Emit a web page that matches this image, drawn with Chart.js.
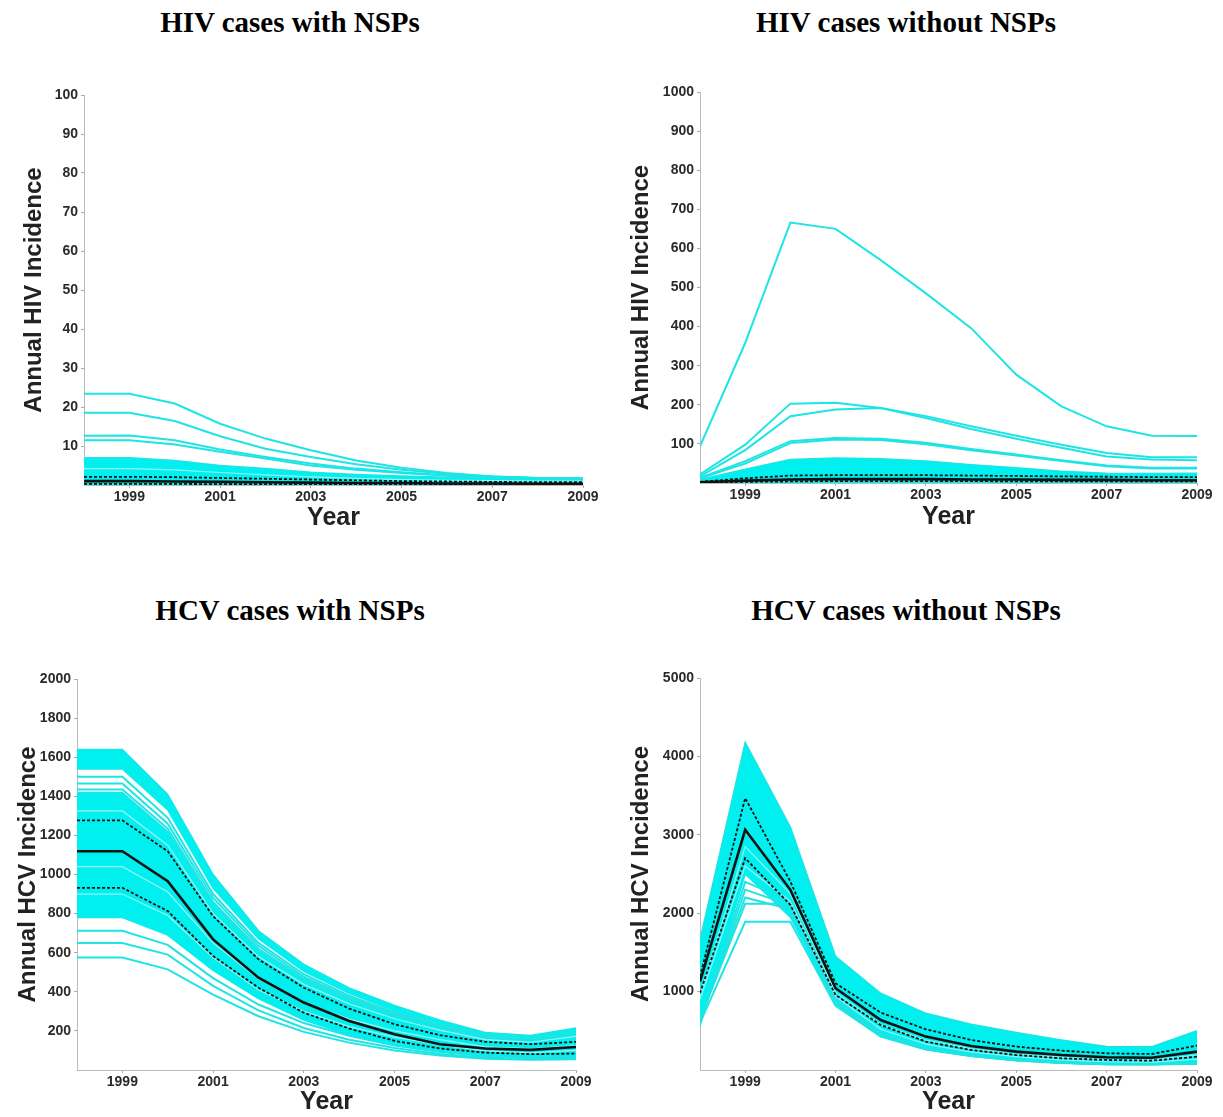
<!DOCTYPE html>
<html>
<head>
<meta charset="utf-8">
<script src="https://cdn.jsdelivr.net/npm/chart.js@4.4.0/dist/chart.umd.min.js"></script>
<style>
	body { margin: 0; background: #fff; }
	#page { position: relative; width: 1223px; height: 1117px; overflow: hidden; }
	.ttl { position: absolute; width: 600px; text-align: center; font: bold 29px "Liberation Serif", "Times New Roman", serif; color: #000; line-height: 33px; }
	canvas { position: absolute; }
</style>
</head>
<body>
<div id="page">
	<div class="ttl" style="left:-10px; top:6px;">HIV cases with NSPs</div>
	<div class="ttl" style="left:606px; top:6px;">HIV cases without NSPs</div>
	<div class="ttl" style="left:-10px; top:594px;">HCV cases with NSPs</div>
	<div class="ttl" style="left:606px; top:594px;">HCV cases without NSPs</div>
	<canvas id="HIV_With" width="610" height="490" style="left:0px; top:60px;"></canvas>
	<canvas id="HIV_Without" width="613" height="490" style="left:610px; top:60px;"></canvas>
	<canvas id="HCV_With" width="610" height="477" style="left:0px; top:640px;"></canvas>
	<canvas id="HCV_Without" width="613" height="477" style="left:610px; top:640px;"></canvas>
</div>
<script>
// years on the x axis, and the labelled ticks
const years = [1998, 1999, 2000, 2001, 2002, 2003, 2004, 2005, 2006, 2007, 2008, 2009];
const xTicks = [1999, 2001, 2003, 2005, 2007, 2009];

// HIV with NSPs
const hivWithTicks = [10, 20, 30, 40, 50, 60, 70, 80, 90, 100];
const hivWithLine1 = [23.4, 23.4, 20.9, 15.7, 11.9, 8.9, 6.3, 4.4, 3.1, 2.2, 1.8, 1.6];
const hivWithLine2 = [18.5, 18.5, 16.4, 12.5, 9.3, 7.2, 5.3, 3.9, 2.9, 2.2, 1.8, 1.6];
const hivWithLine3 = [12.6, 12.7, 11.5, 9.1, 7.2, 5.5, 4.2, 3.3, 2.5, 2.1, 1.7, 1.6];
const hivWithLine4 = [11.5, 11.5, 10.4, 8.5, 6.8, 5.0, 3.9, 3.1, 2.4, 2.1, 1.7, 1.6];
const hivWithLight = [4.2, 4.2, 3.9, 3.2, 2.6, 2.1, 1.7, 1.4, 1.2, 1.1, 1.0, 1.0];
const hivWithBandTop = [7.0, 7.0, 6.3, 5.0, 4.2, 3.3, 2.7, 2.3, 2.0, 1.9, 1.8, 1.8];
const hivWithBandBottom = [0, 0, 0, 0, 0, 0, 0, 0, 0, 0, 0, 0];
const hivWithMedian = [1.0, 1.0, 0.9, 0.8, 0.7, 0.6, 0.5, 0.5, 0.4, 0.4, 0.3, 0.3];
const hivWithUpper = [2.1, 2.1, 2.0, 1.8, 1.6, 1.4, 1.2, 1.0, 0.9, 0.8, 0.7, 0.7];
const hivWithLower = [0.3, 0.3, 0.3, 0.2, 0.2, 0.2, 0.1, 0.1, 0.1, 0.1, 0.1, 0.1];

// HIV without NSPs
const hivWithoutTicks = [100, 200, 300, 400, 500, 600, 700, 800, 900, 1000];
const hivWithoutLine1 = [94, 358, 666, 650, 570, 485, 396, 277, 196, 145, 121, 120];
const hivWithoutLine2 = [22, 98, 203, 205, 192, 171, 145, 121, 98, 77, 66, 66];
const hivWithoutLine3 = [17, 84, 171, 188, 192, 166, 138, 113, 90, 68, 60, 58];
const hivWithoutLine4 = [13, 56, 107, 115, 113, 103, 87, 73, 58, 45, 39, 39];
const hivWithoutLine5 = [12, 50, 102, 111, 110, 99, 84, 70, 56, 43, 37, 37];
const hivWithoutBandTop = [9, 35, 60, 64, 62, 56, 47, 39, 30, 25, 24, 25];
const hivWithoutBandBottom = [0, 0, 0, 0, 0, 0, 0, 0, 0, 0, 0, 0];
const hivWithoutMedian = [2, 6, 9, 10, 10, 10, 9, 9, 8, 8, 7, 7];
const hivWithoutUpper = [3, 12, 19, 20, 20, 20, 19, 18, 17, 16, 15, 15];
const hivWithoutLower = [1, 3, 4, 5, 5, 5, 5, 4, 4, 4, 4, 4];

// HCV with NSPs
const hcvWithTicks = [200, 400, 600, 800, 1000, 1200, 1400, 1600, 1800, 2000];
const hcvWithBandATop = [1640, 1640, 1410, 1000, 712, 540, 420, 330, 255, 192, 176, 215];
const hcvWithBandABottom = [1540, 1540, 1330, 930, 672, 505, 392, 303, 236, 180, 165, 200];
const hcvWithLine1 = [1500, 1500, 1290, 900, 650, 490, 380, 295, 230, 175, 160, 195];
const hcvWithLine2 = [1465, 1465, 1260, 880, 635, 478, 370, 288, 224, 170, 156, 190];
const hcvWithLine3 = [1435, 1435, 1235, 860, 620, 468, 362, 282, 219, 166, 152, 186];
const hcvWithBandBTop = [1420, 1420, 1220, 850, 612, 460, 355, 276, 214, 162, 148, 182];
const hcvWithBandBBottom = [780, 780, 690, 510, 365, 255, 180, 128, 94, 72, 62, 60];
const hcvWithLine4 = [712, 712, 640, 470, 335, 240, 175, 125, 92, 72, 65, 70];
const hcvWithLine5 = [650, 650, 590, 430, 305, 215, 155, 112, 82, 64, 58, 62];
const hcvWithLine6 = [575, 575, 515, 385, 275, 195, 140, 100, 74, 58, 52, 55];
const hcvWithLight1 = [1325, 1325, 1150, 800, 580, 438, 338, 262, 204, 155, 142, 172];
const hcvWithLight2 = [1040, 1040, 910, 650, 465, 345, 260, 200, 155, 118, 108, 125];
const hcvWithLight3 = [900, 900, 790, 575, 410, 300, 222, 168, 128, 98, 88, 100];
const hcvWithMedian = [1119, 1119, 966, 668, 472, 345, 251, 183, 132, 110, 103, 118];
const hcvWithUpper = [1277, 1277, 1119, 787, 566, 421, 314, 234, 178, 144, 132, 144];
const hcvWithLower = [932, 932, 813, 583, 421, 293, 212, 149, 110, 89, 81, 84];

// HCV without NSPs
const hcvWithoutTicks = [1000, 2000, 3000, 4000, 5000];
const hcvWithoutBandTop = [1660, 4180, 3100, 1450, 979, 723, 583, 477, 383, 300, 298, 500];
const hcvWithoutBandBottom = [560, 2500, 1950, 830, 430, 260, 175, 120, 88, 70, 70, 78];
const hcvWithoutLine1 = [600, 2400, 2150, 900, 470, 290, 195, 135, 100, 80, 78, 90];
const hcvWithoutLine2 = [620, 2300, 2100, 880, 455, 280, 190, 130, 96, 77, 75, 86];
const hcvWithoutLine3 = [640, 2200, 2050, 860, 445, 272, 185, 127, 94, 75, 73, 84];
const hcvWithoutLine4 = [650, 2120, 2120, 850, 440, 268, 182, 125, 92, 74, 72, 82];
const hcvWithoutLine5 = [600, 1890, 1890, 820, 425, 262, 178, 122, 90, 72, 70, 80];
const hcvWithoutLight1 = [900, 2600, 2150, 940, 520, 330, 230, 170, 130, 105, 100, 140];
const hcvWithoutLight2 = [950, 2850, 2250, 990, 580, 380, 270, 200, 160, 130, 125, 190];
const hcvWithoutMedian = [1128, 3064, 2298, 1043, 638, 426, 306, 234, 191, 162, 157, 234];
const hcvWithoutUpper = [1191, 3468, 2404, 1106, 732, 519, 383, 298, 247, 213, 204, 311];
const hcvWithoutLower = [979, 2702, 2106, 957, 574, 362, 255, 191, 149, 128, 119, 170];

Chart.defaults.font.family = '"Liberation Sans", Arial, sans-serif';
Chart.defaults.animation = false;

const CYAN_LINE = "rgb(30,228,228)";
const CYAN_FILL = "rgb(0,240,240)";
const CYAN_LIGHT = "rgb(150,244,244)";

function series(values, kind) {
	let ds = {
		data: values.map((v, i) => ({ x: years[i], y: v })),
		pointRadius: 0,
		tension: 0,
		fill: false,
		borderCapStyle: "butt",
	};
	if (kind == "median") {
		ds.borderColor = "#111";
		ds.borderWidth = 2.6;
	} else if (kind == "ci") {
		ds.borderColor = "#111";
		ds.borderWidth = 1.8;
		ds.borderDash = [3, 2];
	} else if (kind == "light") {
		ds.borderColor = CYAN_LIGHT;
		ds.borderWidth = 1.2;
	} else if (kind == "bandTop") {
		ds.borderColor = CYAN_LINE;
		ds.borderWidth = 1.5;
		ds.fill = "+1";   // fill down to the next dataset (band bottom)
		ds.backgroundColor = CYAN_FILL;
	} else if (kind == "bandBottom") {
		ds.borderColor = CYAN_LINE;
		ds.borderWidth = 1.5;
	} else {
		ds.borderColor = CYAN_LINE;
		ds.borderWidth = 2;
	}
	return ds;
}

// first dataset is drawn on top, so black lines go first and bands last
function makePanel(id, datasets, yMax, yTicks, yTitle, lay) {
	return new Chart(document.getElementById(id).getContext("2d"), {
		type: "line",
		data: { datasets: datasets },
		options: {
			responsive: false,
			events: [],
			layout: { padding: { top: lay.top, right: lay.right, left: 0, bottom: 0 } },
			plugins: { legend: { display: false }, tooltip: { enabled: false } },
			scales: {
				x: {
					type: "linear",
					min: 1998,
					max: 2009,
					afterBuildTicks: (s) => { s.ticks = xTicks.map(v => ({ value: v })); },
					afterFit: (s) => { s.height = lay.xHeight; },
					ticks: {
						callback: (v) => String(v),
						color: "#2a2a2a",
						font: { size: 14, weight: "bold" },
						padding: 1,
						maxRotation: 0,
						autoSkip: false,
					},
					grid: { drawOnChartArea: false, drawTicks: true, tickLength: 3, color: "#aaa" },
					border: { display: true, color: "#bbb", width: 1 },
					title: {
						display: true,
						text: "Year",
						color: "#222",
						font: { size: 25, weight: "bold" },
						padding: { top: 0, bottom: lay.xTitlePad },
					},
				},
				y: {
					min: 0,
					max: yMax,
					afterBuildTicks: (s) => { s.ticks = yTicks.map(v => ({ value: v })); },
					afterFit: (s) => { s.width = lay.yWidth; },
					ticks: {
						callback: (v) => String(v),
						color: "#2a2a2a",
						font: { size: 14, weight: "bold" },
						padding: 3,
						autoSkip: false,
					},
					grid: { drawOnChartArea: false, drawTicks: true, tickLength: 3, color: "#aaa" },
					border: { display: true, color: "#bbb", width: 1 },
					title: {
						display: true,
						text: yTitle,
						color: "#222",
						font: { size: 24, weight: "bold" },
						padding: { top: lay.yTitlePad, bottom: 0 },
					},
				},
			},
		},
	});
}

var HIV_With_Obj = makePanel("HIV_With", [
	series(hivWithMedian, "median"),
	series(hivWithUpper, "ci"),
	series(hivWithLower, "ci"),
	series(hivWithLight, "light"),
	series(hivWithLine1, "line"),
	series(hivWithLine2, "line"),
	series(hivWithLine3, "line"),
	series(hivWithLine4, "line"),
	series(hivWithBandTop, "bandTop"),
	series(hivWithBandBottom, "bandBottom"),
], 100, hivWithTicks, "Annual HIV Incidence",
	{ top: 35, right: 27, yWidth: 84, xHeight: 65, xTitlePad: 17, yTitlePad: 20 });

var HIV_Without_Obj = makePanel("HIV_Without", [
	series(hivWithoutMedian, "median"),
	series(hivWithoutUpper, "ci"),
	series(hivWithoutLower, "ci"),
	series(hivWithoutLine1, "line"),
	series(hivWithoutLine2, "line"),
	series(hivWithoutLine3, "line"),
	series(hivWithoutLine4, "line"),
	series(hivWithoutLine5, "line"),
	series(hivWithoutBandTop, "bandTop"),
	series(hivWithoutBandBottom, "bandBottom"),
], 1000, hivWithoutTicks, "Annual HIV Incidence",
	{ top: 32, right: 26, yWidth: 90, xHeight: 67, xTitlePad: 18, yTitlePad: 17 });

var HCV_With_Obj = makePanel("HCV_With", [
	series(hcvWithMedian, "median"),
	series(hcvWithUpper, "ci"),
	series(hcvWithLower, "ci"),
	series(hcvWithLight1, "light"),
	series(hcvWithLight2, "light"),
	series(hcvWithLight3, "light"),
	series(hcvWithLine1, "line"),
	series(hcvWithLine2, "line"),
	series(hcvWithLine3, "line"),
	series(hcvWithLine4, "line"),
	series(hcvWithLine5, "line"),
	series(hcvWithLine6, "line"),
	series(hcvWithBandATop, "bandTop"),
	series(hcvWithBandABottom, "bandBottom"),
	series(hcvWithBandBTop, "bandTop"),
	series(hcvWithBandBBottom, "bandBottom"),
], 2000, hcvWithTicks, "Annual HCV Incidence",
	{ top: 39, right: 34, yWidth: 77, xHeight: 47, xTitlePad: 0, yTitlePad: 14 });

var HCV_Without_Obj = makePanel("HCV_Without", [
	series(hcvWithoutMedian, "median"),
	series(hcvWithoutUpper, "ci"),
	series(hcvWithoutLower, "ci"),
	series(hcvWithoutLight1, "light"),
	series(hcvWithoutLight2, "light"),
	series(hcvWithoutLine1, "line"),
	series(hcvWithoutLine2, "line"),
	series(hcvWithoutLine3, "line"),
	series(hcvWithoutLine4, "line"),
	series(hcvWithoutLine5, "line"),
	series(hcvWithoutBandTop, "bandTop"),
	series(hcvWithoutBandBottom, "bandBottom"),
], 5000, hcvWithoutTicks, "Annual HCV Incidence",
	{ top: 38, right: 26, yWidth: 90, xHeight: 47, xTitlePad: 0, yTitlePad: 17 });
</script>
</body>
</html>
